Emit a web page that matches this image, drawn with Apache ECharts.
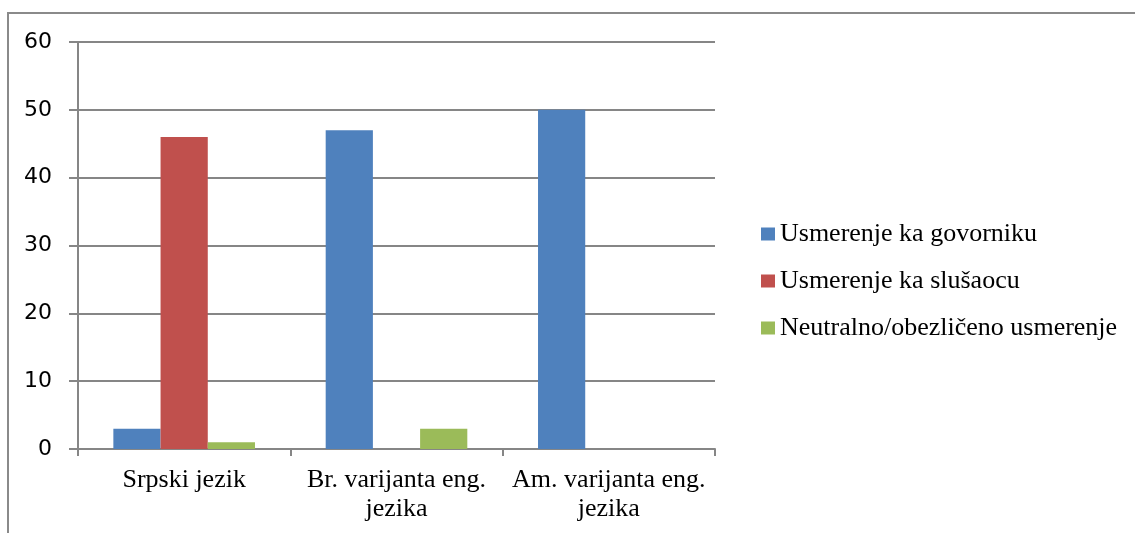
<!DOCTYPE html>
<html><head><meta charset="utf-8">
<script src="https://cdn.jsdelivr.net/npm/echarts@6/dist/echarts.min.js"></script>
<style>html,body{margin:0;padding:0;background:#fff}#c{width:1135px;height:533px}</style>
</head><body><div id="c"></div>
<script>
const categories = ['Srpski jezik', 'Br. varijanta eng.\njezika', 'Am. varijanta eng.\njezika'];
const seriesNames = ['Usmerenje ka govorniku', 'Usmerenje ka slušaocu', 'Neutralno/obezličeno usmerenje'];
const govorniku = [3, 47, 50];
const slusaocu = [46, 0, 0];
const neutralno = [1, 3, 0];
const colors = ['#4F81BD', '#C0504D', '#9BBB59'];

const chart = echarts.init(document.getElementById('c'));
const data = [govorniku, slusaocu, neutralno];
chart.setOption({
  animation: false,
  grid: {left: 78, right: 420, top: 42, bottom: 84, containLabel: false},
  graphic: [{type: 'rect', shape: {x: 8, y: 13, width: 1200, height: 600},
    style: {fill: 'none', stroke: '#8a8a8a', lineWidth: 2}, silent: true, z: -1}],
  legend: {
    orient: 'vertical', left: 756, top: 216, itemWidth: 14, itemHeight: 13, itemGap: 21,
    icon: 'rect',
    textStyle: {fontFamily: 'Liberation Serif', fontSize: 26, color: '#000', lineHeight: 26},
    data: seriesNames
  },
  xAxis: {
    type: 'category', data: categories,
    axisLine: {lineStyle: {color: '#868686', width: 2}},
    axisTick: {show: true, length: 7, lineStyle: {color: '#868686', width: 2}},
    axisLabel: {fontFamily: 'Liberation Serif', fontSize: 26, color: '#000', margin: 17, lineHeight: 29, interval: 0}
  },
  yAxis: {
    type: 'value', min: 0, max: 60, interval: 10,
    axisLine: {show: true, lineStyle: {color: '#868686', width: 2}},
    axisTick: {show: true, length: 9, lineStyle: {color: '#868686', width: 2}},
    splitLine: {lineStyle: {color: '#868686', width: 2}},
    axisLabel: {fontFamily: 'DejaVu Sans', fontSize: 22, color: '#000', margin: 26}
  },
  series: seriesNames.map((n, i) => ({
    name: n, type: 'bar', data: data[i], barGap: '0%', barCategoryGap: '33.3%',
    itemStyle: {color: colors[i]}
  }))
});
</script></body></html>
